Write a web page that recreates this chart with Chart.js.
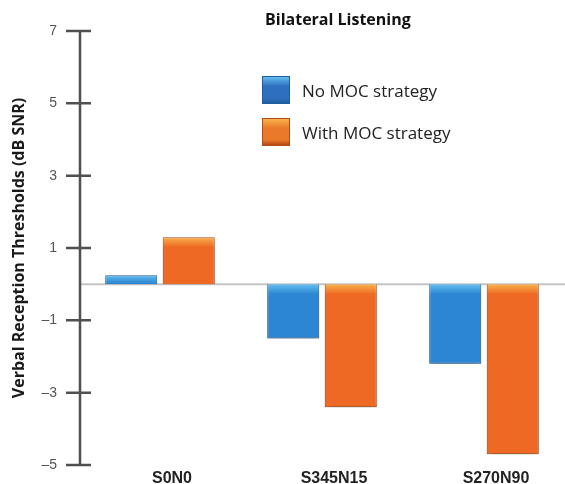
<!DOCTYPE html>
<html>
<head>
<meta charset="utf-8">
<script src="https://cdn.jsdelivr.net/npm/chart.js@4/dist/chart.umd.min.js"></script>
<style>
  html, body { margin: 0; padding: 0; background: #fff; }
  #wrap { position: relative; width: 565px; height: 484px; overflow: hidden; }
  #title { position: absolute; left: 265px; top: 9px; font: bold 16px "Open Sans", sans-serif; line-height: 1.362; color: #111; white-space: nowrap; }
  .leg { position: absolute; left: 262px; height: 28px; display: flex; align-items: center; font: 17px "Open Sans", sans-serif; color: #222; white-space: nowrap; }
  .leg .sw { width: 28px; height: 28px; margin-right: 12px; box-sizing: border-box; }
</style>
</head>
<body>
<div id="wrap">
  <canvas id="c" width="565" height="484"></canvas>
  <div id="title">Bilateral Listening</div>
  <div id="legend"></div>
</div>
<script>
// Listening conditions and speech reception thresholds (dB SNR)
const categories = ['S0N0', 'S345N15', 'S270N90'];
const noMoc = [0.25, -1.5, -2.2];
const withMoc = [1.3, -3.4, -4.7];
const seriesNames = ['No MOC strategy', 'With MOC strategy'];
const yTicks = [7, 5, 3, 1, -1, -3, -5];
const yTickLabels = ['7', '5', '3', '1', '\u20131', '\u20133', '\u20135'];
const yTitle = 'Verbal Reception Thresholds (dB SNR)';

const palette = [
  { main: '#2d86d3', light: '#63bdee', dark: '#1d5f9e', swatch: '#2f6fc0' },
  { main: '#ee6a24', light: '#f8b24c', dark: '#b44a14', swatch: '#ea7a2a' }
];

function barFill(idx) {
  return function (ctx) {
    const c = palette[idx];
    if (ctx.type !== 'data' || !ctx.chart.chartArea) return c.main;
    const ys = ctx.chart.scales.y;
    const v = ctx.raw;
    const top = ys.getPixelForValue(Math.max(v, 0));
    const bot = ys.getPixelForValue(Math.min(v, 0));
    const h = Math.max(1, bot - top);
    const g = ctx.chart.ctx.createLinearGradient(0, top, 0, bot);
    g.addColorStop(0, c.light);
    g.addColorStop(Math.min(0.9, 10 / h), c.main);
    g.addColorStop(1, c.main);
    return g;
  };
}

// Axis line, crossing tick marks, zero baseline and soft bar shadows
const axisDecor = {
  id: 'axisDecor',
  beforeDatasetsDraw(chart) {
    const { ctx, chartArea, scales } = chart;
    const y = scales.y;
    const ax = chartArea.left + 1;
    ctx.save();
    ctx.strokeStyle = '#c4c4c4';
    ctx.lineWidth = 2;
    const y0 = y.getPixelForValue(0);
    ctx.beginPath();
    ctx.moveTo(ax, y0);
    ctx.lineTo(chartArea.right, y0);
    ctx.stroke();
    ctx.strokeStyle = '#4f4f4f';
    ctx.lineWidth = 2.5;
    ctx.beginPath();
    ctx.moveTo(ax, y.getPixelForValue(yTicks[0]));
    ctx.lineTo(ax, y.getPixelForValue(yTicks[yTicks.length - 1]));
    yTicks.forEach(t => {
      const py = y.getPixelForValue(t);
      ctx.moveTo(ax - 14, py);
      ctx.lineTo(ax + 11, py);
    });
    ctx.stroke();
    ctx.restore();
  },
  beforeDatasetDraw(chart) {
    const ctx = chart.ctx;
    ctx.save();
    ctx.shadowColor = 'rgba(0,0,0,0.28)';
    ctx.shadowBlur = 8;
    ctx.shadowOffsetY = 6;
  },
  afterDatasetDraw(chart) {
    chart.ctx.restore();
  }
};

const chart = new Chart(document.getElementById('c'), {
  type: 'bar',
  data: {
    labels: categories,
    datasets: [
      { label: seriesNames[0], data: noMoc, backgroundColor: barFill(0), borderColor: palette[0].dark, borderWidth: 1,
        categoryPercentage: 0.71, barPercentage: 0.905 },
      { label: seriesNames[1], data: withMoc, backgroundColor: barFill(1), borderColor: palette[1].dark, borderWidth: 1,
        categoryPercentage: 0.71, barPercentage: 0.905 }
    ]
  },
  options: {
    responsive: false,
    devicePixelRatio: 1,
    animation: false,
    layout: { padding: { top: 31, right: 0, bottom: 0, left: 0 } },
    plugins: { legend: { display: false }, title: { display: false }, tooltip: { enabled: false } },
    scales: {
      x: {
        grid: { display: false, drawTicks: false },
        border: { display: false },
        ticks: {
          padding: 4,
          labelOffset: 12,
          color: '#222',
          font: { family: '"Liberation Sans", Arial, sans-serif', size: 16, weight: 'bold' }
        },
        afterFit(s) { s.height = 19; s.paddingLeft = 0; s.paddingRight = 0; }
      },
      y: {
        min: -5,
        max: 7,
        grid: { display: false, drawTicks: false },
        border: { display: false },
        afterBuildTicks(s) { s.ticks = yTicks.map(v => ({ value: v })); },
        ticks: {
          padding: 22,
          color: '#555',
          font: { family: '"Liberation Sans", Arial, sans-serif', size: 14 },
          callback(v) { const i = yTicks.indexOf(v); return i >= 0 ? yTickLabels[i] : ''; }
        },
        title: {
          display: true,
          text: yTitle,
          color: '#1a1a1a',
          padding: { top: 10, bottom: 0 },
          font: { family: '"Open Sans", sans-serif', size: 16, weight: 'bold' }
        },
        afterFit(s) { s.width = 79; s.paddingTop = 0; s.paddingBottom = 0; }
      }
    }
  },
  plugins: [axisDecor]
});

// Legend built from the dataset labels and colours
const legend = document.getElementById('legend');
chart.data.datasets.forEach((ds, i) => {
  const row = document.createElement('div');
  row.className = 'leg';
  row.style.top = (i === 0 ? 76 : 118) + 'px';
  const sw = document.createElement('div');
  sw.className = 'sw';
  const c = palette[i];
  sw.style.background = 'linear-gradient(180deg,' + c.light + ' 0%,' + c.swatch + ' 35%,' + c.swatch + ' 80%,' + c.dark + ' 100%)';
  sw.style.border = '1px solid ' + c.dark;
  const tx = document.createElement('span');
  tx.textContent = ds.label;
  row.appendChild(sw);
  row.appendChild(tx);
  legend.appendChild(row);
});
</script>
</body>
</html>
